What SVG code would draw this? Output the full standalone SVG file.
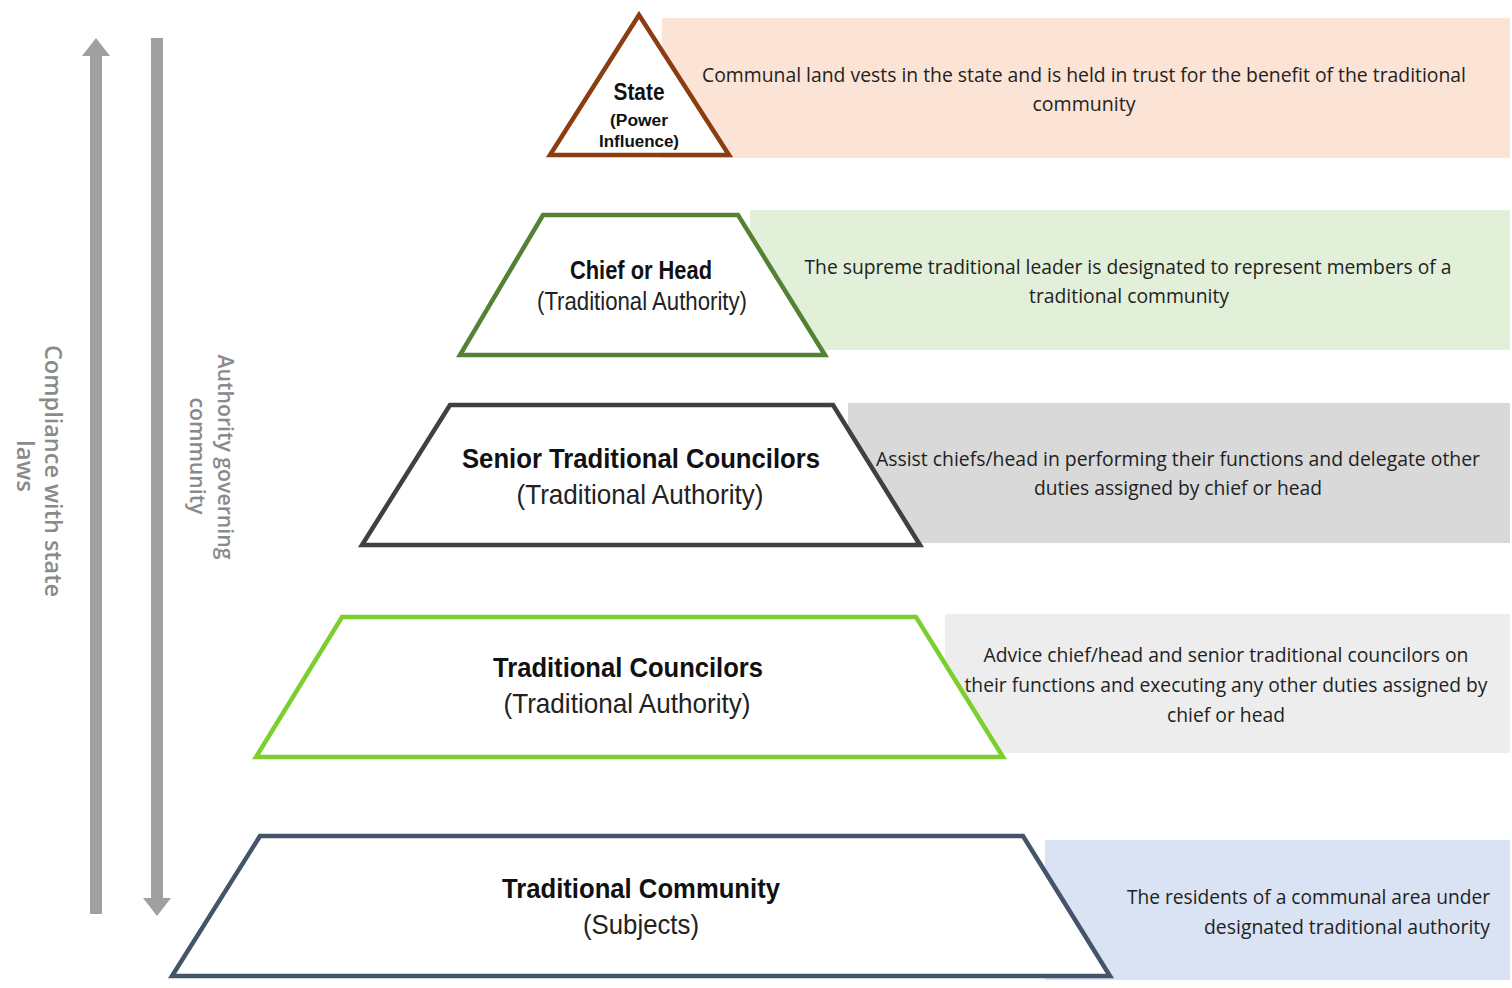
<svg xmlns="http://www.w3.org/2000/svg" width="1512" height="988" viewBox="0 0 1512 988">
<style>
.desc{font-family:"Open Sans","Liberation Sans",sans-serif;font-size:20px;fill:#222;text-anchor:middle}
.t1{font-family:"Liberation Sans",Arial,sans-serif;font-weight:bold;font-size:25px;fill:#111;text-anchor:middle}
.t2{font-family:"Liberation Sans",Arial,sans-serif;font-size:25px;fill:#222;text-anchor:middle}
.side{font-family:"Open Sans","Liberation Sans",sans-serif;font-size:24px;font-weight:600;fill:#8a8a8a;text-anchor:middle}
.shape{fill:#fff;stroke-width:4.5;stroke-linejoin:miter}
</style>
<rect width="1512" height="988" fill="#fff"/>
<g id="connectors">
<path d="M90,914 V56 H82 L96,38 L110,56 H102 V914 Z" fill="#a0a0a0"/>
<path d="M151,38 V898 H143 L157,916 L171,898 H163 V38 Z" fill="#a0a0a0"/>
</g>
<g id="label-compliance">
<text class="side" transform="translate(53,471) rotate(90)" textLength="252" lengthAdjust="spacingAndGlyphs" dy="8">Compliance with state</text>
<text class="side" transform="translate(25,466) rotate(90)" textLength="52" lengthAdjust="spacingAndGlyphs" dy="8">laws</text>
</g>
<g id="label-authority">
<text class="side" transform="translate(225,457) rotate(90)" textLength="205" lengthAdjust="spacingAndGlyphs" dy="7" style="font-size:22px">Authority governing</text>
<text class="side" transform="translate(197,456) rotate(90)" textLength="117" lengthAdjust="spacingAndGlyphs" dy="7" style="font-size:22px">community</text>
</g>
<g id="state">
<rect x="662" y="18" width="848" height="140" fill="#fbe3d6"/>
<polygon class="shape" points="639,15 729,155 550,155" stroke="#8b3d12"/>
<text class="t1" x="639" y="100" textLength="51" lengthAdjust="spacingAndGlyphs" style="font-size:23px">State</text>
<text class="t1" x="639" y="126" textLength="58" lengthAdjust="spacingAndGlyphs" style="font-size:16px">(Power</text>
<text class="t1" x="639" y="147" textLength="80" lengthAdjust="spacingAndGlyphs" style="font-size:16px">Influence)</text>
<text class="desc" x="1084" y="82" textLength="764" lengthAdjust="spacingAndGlyphs">Communal land vests in the state and is held in trust for the benefit of the traditional</text>
<text class="desc" x="1084" y="111" textLength="103" lengthAdjust="spacingAndGlyphs">community</text>
</g>
<g id="chief">
<rect x="750" y="210" width="760" height="140" fill="#e2f0d9"/>
<polygon class="shape" points="543,215 738,215 825,355 460,355" stroke="#548235"/>
<text class="t1" x="641" y="279" textLength="142" lengthAdjust="spacingAndGlyphs">Chief or Head</text>
<text class="t2" x="642" y="310" textLength="210" lengthAdjust="spacingAndGlyphs">(Traditional Authority)</text>
<text class="desc" x="1128" y="274" textLength="647" lengthAdjust="spacingAndGlyphs">The supreme traditional leader is designated to represent members of a</text>
<text class="desc" x="1129" y="303" textLength="200" lengthAdjust="spacingAndGlyphs">traditional community</text>
</g>
<g id="senior">
<rect x="848" y="403" width="662" height="140" fill="#d9d9d9"/>
<polygon class="shape" points="450,405 833,405 920,545 362,545" stroke="#404040"/>
<text class="t1" x="641" y="468" textLength="358" lengthAdjust="spacingAndGlyphs" style="font-size:27px">Senior Traditional Councilors</text>
<text class="t2" x="640" y="504" textLength="247" lengthAdjust="spacingAndGlyphs" style="font-size:28px">(Traditional Authority)</text>
<text class="desc" x="1178" y="466" textLength="604" lengthAdjust="spacingAndGlyphs">Assist chiefs/head in performing their functions and delegate other</text>
<text class="desc" x="1178" y="495" textLength="288" lengthAdjust="spacingAndGlyphs">duties assigned by chief or head</text>
</g>
<g id="councilors">
<rect x="945" y="614" width="565" height="139" fill="#ededed"/>
<polygon class="shape" points="342,617 916,617 1003,757 256,757" stroke="#7dcf2f"/>
<text class="t1" x="628" y="677" textLength="270" lengthAdjust="spacingAndGlyphs" style="font-size:27px">Traditional Councilors</text>
<text class="t2" x="627" y="713" textLength="247" lengthAdjust="spacingAndGlyphs" style="font-size:28px">(Traditional Authority)</text>
<text class="desc" x="1226" y="662" textLength="485" lengthAdjust="spacingAndGlyphs">Advice chief/head and senior traditional councilors on</text>
<text class="desc" x="1226" y="692" textLength="523" lengthAdjust="spacingAndGlyphs">their functions and executing any other duties assigned by</text>
<text class="desc" x="1226" y="722" textLength="118" lengthAdjust="spacingAndGlyphs">chief or head</text>
</g>
<g id="community">
<rect x="1045" y="840" width="465" height="140" fill="#dae3f3"/>
<polygon class="shape" points="260,836 1023,836 1110,976 172,976" stroke="#44546a"/>
<text class="t1" x="641" y="898" textLength="278" lengthAdjust="spacingAndGlyphs" style="font-size:27px">Traditional Community</text>
<text class="t2" x="641" y="934" textLength="116" lengthAdjust="spacingAndGlyphs" style="font-size:28px">(Subjects)</text>
<text class="desc" x="1490" y="904" textLength="363" lengthAdjust="spacingAndGlyphs" style="text-anchor:end">The residents of a communal area under</text>
<text class="desc" x="1490" y="934" textLength="286" lengthAdjust="spacingAndGlyphs" style="text-anchor:end">designated traditional authority</text>
</g>
</svg>
